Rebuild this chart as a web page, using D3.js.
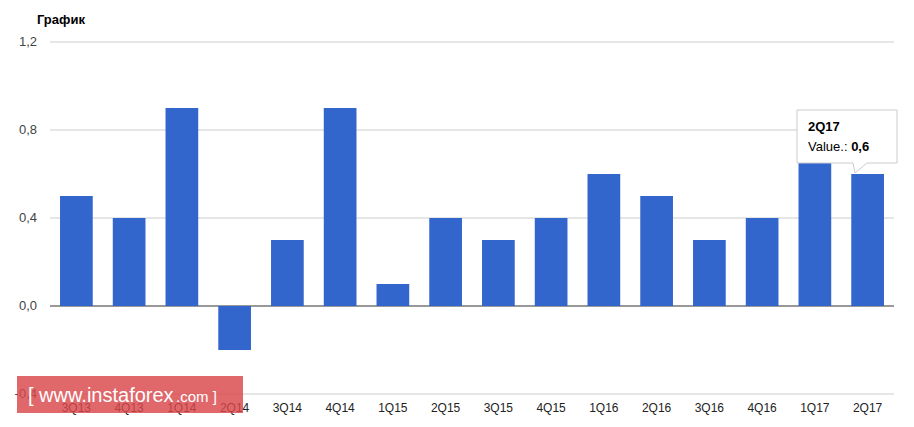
<!DOCTYPE html>
<html><head><meta charset="utf-8">
<script src="https://cdn.jsdelivr.net/npm/d3@7"></script>
<style>body{margin:0;background:#fff;font-family:Arial,"Liberation Sans",sans-serif}</style>
</head><body><svg id="c" width="914" height="427"></svg>
<script>
// quarterly values
var quarters = ["3Q13","4Q13","1Q14","2Q14","3Q14","4Q14","1Q15","2Q15","3Q15","4Q15","1Q16","2Q16","3Q16","4Q16","1Q17","2Q17"];
var values = [0.5,0.4,0.9,-0.2,0.3,0.9,0.1,0.4,0.3,0.4,0.6,0.5,0.3,0.4,0.7,0.6];
var yTicks = [-0.4,0,0.4,0.8,1.2];

var svg = d3.select("#c");
var x = d3.scaleBand().domain(quarters).range([50,894]).paddingInner(0.38).paddingOuter(0.19);
var y = d3.scaleLinear().domain([-0.4,1.2]).range([394,42]);
var fmt = function(v){ return v.toFixed(1).replace(".", ","); };

// gridlines
svg.append("g").selectAll("line").data(yTicks).join("line")
    .attr("x1",50).attr("x2",894).attr("y1",d=>y(d)).attr("y2",d=>y(d))
    .attr("stroke",d=>d===0?"#333":"#ccc").attr("stroke-width",1);
svg.append("g").selectAll("text").data(yTicks).join("text")
    .attr("x",37).attr("y",d=>y(d)+4).attr("text-anchor","end")
    .attr("font-size",13).attr("fill","#444").text(fmt);

// bars
svg.append("g").selectAll("rect").data(values).join("rect")
    .attr("x",(d,i)=>x(quarters[i])).attr("width",x.bandwidth())
    .attr("y",d=>y(Math.max(d,0))).attr("height",d=>Math.abs(y(d)-y(0)))
    .attr("fill","#3366cc");

// x labels
svg.append("g").selectAll("text").data(quarters).join("text")
    .attr("x",d=>x(d)+x.bandwidth()/2).attr("y",412).attr("text-anchor","middle")
    .attr("font-size",12).attr("fill","#222").text(d=>d);

svg.append("text").attr("x",37).attr("y",24).attr("font-size",13).attr("font-weight","bold").text("График");

// tooltip
var tx = 797, ty = 110;
svg.append("path").attr("d","M"+tx+","+ty+"h100v53h-30l-12,10l-2,-10h-56z")
    .attr("fill","#fff").attr("stroke","#ccc");
svg.append("text").attr("x",tx+11).attr("y",ty+21).attr("font-size",13).attr("font-weight","bold").text("2Q17");
var t = svg.append("text").attr("x",tx+11).attr("y",ty+41).attr("font-size",13);
t.append("tspan").text("Value.: ");
t.append("tspan").attr("font-weight","bold").text(fmt(values[15]));

// watermark
svg.append("rect").attr("x",17).attr("y",376).attr("width",226).attr("height",37).attr("fill","#d9474a").attr("opacity",0.82);
svg.append("text").attr("x",28).attr("y",402).attr("fill","#fff").attr("font-size",20).text("[ www.instaforex");
svg.append("text").attr("x",176).attr("y",402).attr("fill","#fff").attr("font-size",15).text(".com ]");
</script></body></html>
